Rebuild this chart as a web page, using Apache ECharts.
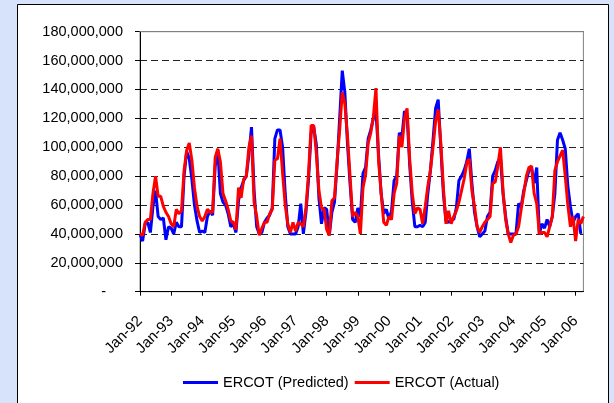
<!DOCTYPE html>
<html>
<head>
<meta charset="utf-8">
<script src="https://cdn.jsdelivr.net/npm/echarts@6/dist/echarts.min.js"></script>
<style>
  html, body { margin: 0; padding: 0; background: #d6e3fb; }
  #chart { width: 614px; height: 403px; }
</style>
</head>
<body>
<div id="chart"></div>
<script>
// monthly values in millions, Jan-92 .. Apr-06
var months = ['Jan', 'Feb', 'Mar', 'Apr', 'May', 'Jun', 'Jul', 'Aug', 'Sep', 'Oct', 'Nov', 'Dec'];
var years = ['92', '93', '94', '95', '96', '97', '98', '99', '00', '01', '02', '03', '04', '05', '06'];
var yTicks = [0, 20, 40, 60, 80, 100, 120, 140, 160, 180];
var seriesNames = ['ERCOT (Predicted)', 'ERCOT (Actual)'];

var actual = [
  40, 39, 48, 50, 50, 68, 80, 66, 66, 59, 55, 52,
  47, 45, 57, 54, 56, 84, 98, 103, 91, 72, 59, 52,
  49, 52, 57, 55, 55, 93, 99, 90, 68, 63, 57, 49,
  48, 43, 72, 65, 78, 80, 100, 108, 62, 52, 39, 44,
  48, 48, 54, 57, 91, 92, 106, 82, 60, 47, 41, 48,
  42, 48, 47, 45, 58, 82, 115, 115, 96, 70, 58, 57,
  43, 39, 63, 65, 90, 112, 138, 130, 108, 80, 52, 55,
  52, 40, 72, 81, 103, 110, 121, 141, 91, 68, 48, 46,
  52, 50, 68, 75, 108, 100, 120, 127, 92, 68, 54, 58,
  57, 47, 59, 73, 84, 100, 118, 126, 103, 72, 47, 56,
  47, 52, 56, 62, 70, 78, 89, 92, 70, 59, 45, 41,
  45, 48, 50, 52, 75, 76, 87, 100, 70, 50, 40, 34,
  39, 40, 45, 57, 68, 80, 86, 87, 68, 61, 40, 41,
  41, 38, 45, 52, 84, 90, 94, 98, 80, 60, 45, 52,
  35, 50, 47, 52
];

var predicted = [
  40, 35, 47, 48, 41, 59, 70, 52, 50, 51, 36, 45,
  44, 40, 48, 45, 45, 80, 97, 92, 78, 60, 49, 41,
  42, 41, 52, 56, 53, 87, 98, 68, 62, 60, 54, 45,
  47, 41, 63, 72, 77, 80, 95, 114, 70, 45, 40, 41,
  48, 51, 53, 58, 106, 112, 112, 100, 68, 45, 40, 40,
  40, 45, 61, 40, 55, 78, 110, 114, 102, 65, 47, 58,
  57, 39, 55, 62, 88, 120, 153, 138, 103, 75, 50, 48,
  58, 52, 82, 86, 106, 112, 120, 125, 95, 68, 54, 57,
  50, 56, 77, 80, 110, 107, 125, 122, 88, 62, 45, 45,
  46, 45, 48, 68, 84, 105, 127, 133, 100, 68, 49, 48,
  50, 50, 58, 77, 80, 84, 90, 99, 75, 55, 45, 38,
  40, 42, 52, 55, 80, 84, 90, 93, 68, 52, 40, 40,
  40, 40, 61, 59, 70, 77, 84, 86, 75, 86, 40, 47,
  44, 50, 45, 52, 68, 105, 110, 105, 99, 73, 59, 48,
  52, 54, 40
];

var categories = [];
years.forEach(function (y) {
  months.forEach(function (m) { categories.push(m + '-' + y); });
});
categories = categories.slice(0, actual.length);

function toUnits(arr) {
  return arr.map(function (v) { return v * 1000000; });
}

var font = 'Liberation Sans, Arial, sans-serif';

var myChart = echarts.init(document.getElementById('chart'));
var option = {
  animation: false,
  backgroundColor: '#d6e3fb',
  textStyle: { fontFamily: font },
  graphic: [{
    type: 'rect',
    shape: { x: 17.5, y: 4.5, width: 591, height: 420 },
    style: { fill: '#ffffff', stroke: '#000000', lineWidth: 1 },
    z: -10
  }],
  grid: {
    left: 140, right: 30.6, top: 31.7, bottom: 111.3,
    show: true, borderColor: '#808080', borderWidth: 1, backgroundColor: 'transparent'
  },
  legend: {
    data: seriesNames,
    icon: 'rect',
    left: 183, top: 375, padding: 0,
    itemWidth: 35, itemHeight: 3, itemGap: 6,
    textStyle: { fontSize: 14.5, color: '#000', fontFamily: font }
  },
  xAxis: [{
    type: 'category',
    data: categories,
    boundaryGap: false,
    axisLine: { lineStyle: { color: '#000', width: 1 } },
    axisTick: { interval: 11, length: 4, lineStyle: { color: '#000' } },
    axisLabel: { interval: 11, rotate: 45, margin: 27, fontSize: 15, color: '#000', fontFamily: font },
    splitLine: { show: false }
  }, {
    type: 'category',
    data: categories,
    boundaryGap: false,
    position: 'top',
    z: 3,
    axisLine: { lineStyle: { color: '#808080', width: 1 } },
    axisTick: { show: false },
    axisLabel: { show: false },
    splitLine: { show: false }
  }],
  yAxis: {
    type: 'value',
    min: yTicks[0] * 1000000,
    max: yTicks[yTicks.length - 1] * 1000000,
    interval: (yTicks[1] - yTicks[0]) * 1000000,
    axisLine: { show: true, lineStyle: { color: '#000', width: 1 } },
    axisTick: { show: true, length: 5, lineStyle: { color: '#000' } },
    axisLabel: {
      margin: 17, fontSize: 14.5, color: '#000', fontFamily: font,
      formatter: function (v) {
        return v === 0 ? '{z|-}' : v.toLocaleString('en-US');
      },
      rich: { z: { padding: [0, 17, 0, 0], fontSize: 14.5, color: '#000' } }
    },
    splitLine: { show: true, lineStyle: { color: '#222', width: 1, type: [7, 4] } }
  },
  series: [{
    name: seriesNames[0],
    type: 'line',
    data: toUnits(predicted),
    symbol: 'none',
    lineStyle: { color: '#0000ff', width: 3 },
    itemStyle: { color: '#0000ff' }
  }, {
    name: seriesNames[1],
    type: 'line',
    data: toUnits(actual),
    symbol: 'none',
    lineStyle: { color: '#ff0000', width: 3 },
    itemStyle: { color: '#ff0000' }
  }]
};
myChart.setOption(option);
</script>
</body>
</html>
